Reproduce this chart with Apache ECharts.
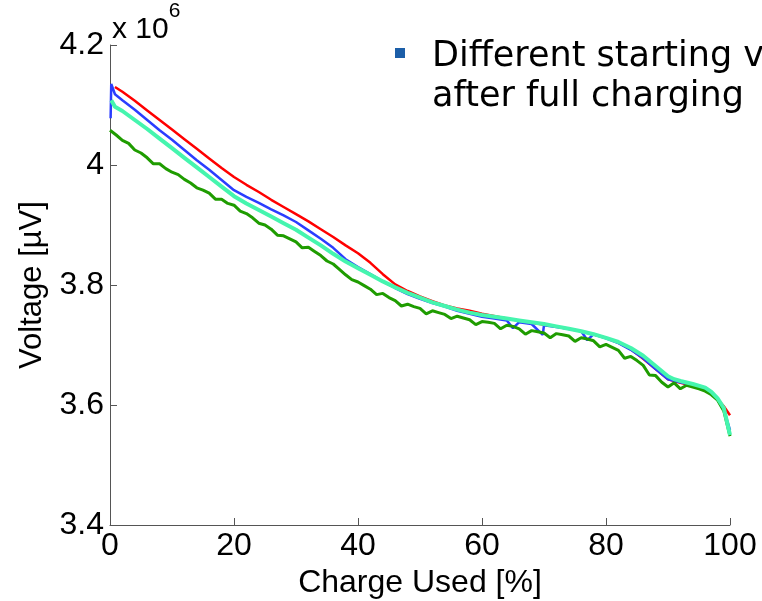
<!DOCTYPE html>
<html>
<head>
<meta charset="utf-8">
<script src="https://cdn.jsdelivr.net/npm/echarts@6/dist/echarts.min.js"></script>
<style>
  html, body { margin: 0; padding: 0; background: #fff; }
  #main { width: 762px; height: 601px; }
</style>
</head>
<body>
<div id="main"></div>
<script>
// axis ticks
var xTicks = [0, 20, 40, 60, 80, 100];
var yTicks = [3.4, 3.6, 3.8, 4.0, 4.2];

// red run (x = charge used %, y = voltage x 10^6 uV)
var redPct = [0.8, 2, 4, 6, 8, 10, 12, 14, 16, 18, 20, 22, 24, 26, 28, 30, 32, 34, 36, 38, 40, 42, 44, 46, 48, 50, 52, 54, 56, 58, 60, 64, 68, 72, 76, 80, 82, 84, 86, 88, 90, 92, 94, 96, 97, 98, 99, 100];
var redVolt = [4.130, 4.122, 4.107, 4.091, 4.075, 4.059, 4.043, 4.027, 4.011, 3.995, 3.980, 3.967, 3.955, 3.942, 3.930, 3.918, 3.906, 3.893, 3.880, 3.866, 3.853, 3.837, 3.818, 3.801, 3.790, 3.781, 3.773, 3.766, 3.761, 3.757, 3.752, 3.744, 3.737, 3.731, 3.723, 3.712, 3.704, 3.693, 3.677, 3.660, 3.643, 3.637, 3.632, 3.626, 3.620, 3.610, 3.598, 3.583];

// blue run
var bluePct = [0.1, 0.2, 0.8, 2, 4, 6, 8, 10, 12, 14, 16, 18, 20, 22, 24, 26, 28, 30, 32, 34, 36, 38, 40, 42, 44, 46, 48, 50, 52, 54, 56, 58, 60, 62, 64, 65, 66, 68, 69.8, 70, 72, 74, 76, 77, 78, 80, 82, 84, 86, 88, 90, 92, 94, 96, 97, 98, 99, 100];
var blueVolt = [4.078, 4.135, 4.118, 4.108, 4.092, 4.075, 4.058, 4.042, 4.025, 4.008, 3.992, 3.975, 3.958, 3.947, 3.937, 3.926, 3.916, 3.905, 3.891, 3.877, 3.862, 3.843, 3.830, 3.818, 3.806, 3.795, 3.785, 3.777, 3.770, 3.764, 3.757, 3.752, 3.747, 3.744, 3.741, 3.728, 3.738, 3.735, 3.717, 3.733, 3.730, 3.727, 3.723, 3.708, 3.718, 3.711, 3.703, 3.692, 3.678, 3.660, 3.643, 3.638, 3.633, 3.627, 3.620, 3.610, 3.593, 3.558];

// green run (noisy)
var greenPct = [0, 1, 2, 3, 4, 5, 6, 7, 8, 9, 10, 11, 12, 13, 14, 15, 16, 17, 18, 19, 20, 21, 22, 23, 24, 25, 26, 27, 28, 29, 30, 31, 32, 33, 34, 35, 36, 37, 38, 39, 40, 41, 42, 43, 44, 45, 46, 47, 48, 49, 50, 51, 52, 53, 54, 55, 56, 57, 58, 59, 60, 61, 62, 63, 64, 65, 66, 67, 68, 69, 70, 71, 72, 73, 74, 75, 76, 77, 78, 79, 80, 81, 82, 83, 84, 85, 86, 87, 88, 89, 90, 91, 92, 93, 94, 95, 96, 97, 98, 99, 100];
var greenVolt = [4.058, 4.050, 4.041, 4.036, 4.025, 4.020, 4.012, 4.002, 4.002, 3.994, 3.988, 3.984, 3.976, 3.970, 3.962, 3.958, 3.953, 3.943, 3.943, 3.936, 3.933, 3.923, 3.919, 3.912, 3.903, 3.900, 3.893, 3.883, 3.882, 3.877, 3.872, 3.862, 3.863, 3.856, 3.849, 3.840, 3.835, 3.826, 3.817, 3.809, 3.805, 3.799, 3.793, 3.784, 3.786, 3.779, 3.774, 3.765, 3.768, 3.764, 3.761, 3.752, 3.757, 3.754, 3.751, 3.744, 3.748, 3.745, 3.742, 3.734, 3.739, 3.738, 3.736, 3.727, 3.733, 3.731, 3.727, 3.718, 3.724, 3.722, 3.720, 3.712, 3.719, 3.717, 3.715, 3.706, 3.712, 3.710, 3.707, 3.697, 3.701, 3.696, 3.691, 3.678, 3.681, 3.674, 3.666, 3.650, 3.649, 3.638, 3.630, 3.637, 3.627, 3.633, 3.630, 3.627, 3.623, 3.617, 3.608, 3.590, 3.548];

// aquamarine run
var cyanPct = [0.2, 0.8, 2, 4, 6, 8, 10, 12, 14, 16, 18, 20, 22, 24, 26, 28, 30, 32, 34, 36, 38, 40, 42, 44, 46, 48, 50, 52, 54, 56, 58, 60, 62, 64, 66, 68, 70, 72, 74, 76, 78, 80, 82, 84, 86, 88, 90, 91, 92, 94, 96, 97, 98, 99, 100];
var cyanVolt = [4.108, 4.097, 4.090, 4.075, 4.060, 4.044, 4.028, 4.012, 3.996, 3.980, 3.964, 3.948, 3.936, 3.925, 3.914, 3.903, 3.892, 3.879, 3.866, 3.852, 3.839, 3.828, 3.817, 3.806, 3.796, 3.787, 3.779, 3.771, 3.765, 3.759, 3.754, 3.750, 3.747, 3.744, 3.741, 3.738, 3.735, 3.731, 3.727, 3.723, 3.718, 3.712, 3.705, 3.695, 3.682, 3.665, 3.648, 3.643, 3.640, 3.635, 3.629, 3.622, 3.611, 3.595, 3.550];

var legendLines = ['Different starting v', 'after full charging'];

function pairs(xs, ys) {
    var out = [];
    for (var i = 0; i < xs.length; i++) out.push([xs[i], ys[i]]);
    return out;
}

function lineSeries(name, xs, ys, color, width) {
    return {
        name: name,
        type: 'line',
        data: pairs(xs, ys),
        showSymbol: false,
        symbol: 'none',
        smooth: false,
        lineStyle: { color: color, width: width },
        itemStyle: { color: color },
        emphasis: { disabled: true },
        animation: false
    };
}

var labelFont = '"Liberation Sans Narrow", "Liberation Sans", Arial, sans-serif';

var myChart = echarts.init(document.getElementById('main'));
var option = {
    backgroundColor: '#fff',
    animation: false,
    grid: { left: 110, right: 32, top: 45, bottom: 76, containLabel: false, outerBoundsMode: 'none' },
    xAxis: {
        type: 'value',
        min: xTicks[0],
        max: xTicks[xTicks.length - 1],
        interval: 20,
        name: 'Charge Used [%]',
        nameLocation: 'middle',
        nameGap: 36,
        nameTextStyle: { fontFamily: labelFont, fontSize: 32, color: '#000' },
        axisLine: { show: true, lineStyle: { color: '#555', width: 1 } },
        axisTick: { show: true, inside: true, length: 7, lineStyle: { color: '#555' } },
        axisLabel: { fontFamily: labelFont, fontSize: 32, color: '#000', margin: 5 },
        splitLine: { show: false }
    },
    yAxis: {
        type: 'value',
        min: yTicks[0],
        max: yTicks[yTicks.length - 1],
        interval: 0.2,
        name: 'Voltage [\u00b5V]',
        nameLocation: 'middle',
        nameGap: 62,
        nameRotate: 90,
        nameTextStyle: { fontFamily: '"Liberation Sans", Arial, sans-serif', fontSize: 31, color: '#000' },
        axisLine: { show: true, lineStyle: { color: '#555', width: 1 } },
        axisTick: { show: true, inside: true, length: 7, lineStyle: { color: '#555' } },
        axisLabel: {
            fontFamily: labelFont, fontSize: 32, color: '#000', margin: 6,
            formatter: function (v) { return String(Math.round(v * 10) / 10); }
        },
        splitLine: { show: false }
    },
    graphic: [
        {
            type: 'text', left: 112, top: 1,
            style: {
                text: '{b|x 10}{s|6}',
                rich: {
                    b: { fontFamily: labelFont, fontSize: 30, fill: '#000', verticalAlign: 'bottom', padding: [14, 0, 0, 0] },
                    s: { fontFamily: labelFont, fontSize: 21, fill: '#000', verticalAlign: 'top' }
                }
            }
        },
        { type: 'rect', shape: { x: 395, y: 48, width: 10, height: 10 }, style: { fill: '#1c5ea8' } },
        {
            type: 'text', x: 432, y: 37,
            style: {
                text: legendLines.join('\n'),
                font: '35px "DejaVu Sans", sans-serif',
                lineHeight: 40,
                fill: '#000'
            }
        }
    ],
    series: [
        lineSeries('red', redPct, redVolt, '#ff0000', 2.5),
        lineSeries('blue', bluePct, blueVolt, '#2b3dff', 2.5),
        lineSeries('green', greenPct, greenVolt, '#1f9c00', 3),
        lineSeries('aquamarine', cyanPct, cyanVolt, '#45f5ae', 4)
    ]
};
myChart.setOption(option);
</script>
</body>
</html>
